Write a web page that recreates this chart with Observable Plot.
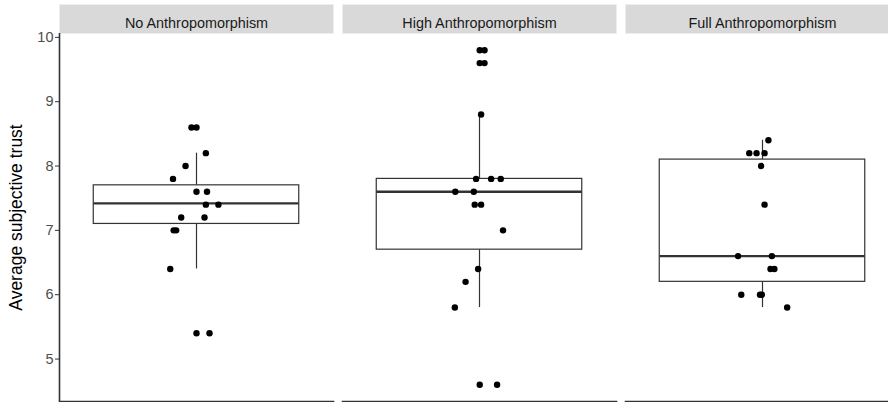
<!DOCTYPE html>
<html>
<head>
<meta charset="utf-8">
<script src="https://cdn.jsdelivr.net/npm/d3@7"></script>
<script src="https://cdn.jsdelivr.net/npm/@observablehq/plot@0.6"></script>
<style>
  html, body { margin: 0; padding: 0; background: #fff; }
  svg { font-family: "Liberation Sans", Arial, sans-serif; }
</style>
</head>
<body>
<div id="chart"></div>
<script>
const conditions = ["No Anthropomorphism", "High Anthropomorphism", "Full Anthropomorphism"];
const yLabel = "Average subjective trust";
const yTicks = [5, 6, 7, 8, 9, 10];

// individual participant values (jittered horizontally)
const noTrust   = [8.6, 8.6, 8.2, 8.0, 7.8, 7.6, 7.6, 7.4, 7.4, 7.2, 7.2, 7.0, 7.0, 6.4, 5.4, 5.4];
const noJitter  = [-0.022, 0, 0.041, -0.048, -0.103, 0, 0.046, 0.041, 0.096, -0.067, 0.035, -0.1, -0.089, -0.115, 0, 0.057];
const highTrust = [9.8, 9.8, 9.6, 9.6, 8.8, 7.8, 7.8, 7.8, 7.6, 7.6, 7.4, 7.4, 7.0, 6.4, 6.2, 5.8, 4.6, 4.6];
const highJitter= [0.001, 0.022, 0.001, 0.022, 0.007, -0.015, 0.051, 0.093, -0.106, -0.025, -0.021, 0.007, 0.103, -0.006, -0.061, -0.108, 0.001, 0.077];
const fullTrust = [8.4, 8.2, 8.2, 8.2, 8.0, 7.4, 6.6, 6.6, 6.4, 6.4, 6.0, 6.0, 6.0, 5.8];
const fullJitter= [0.026, -0.058, -0.026, 0.009, -0.006, 0.009, -0.107, 0.041, 0.035, 0.052, -0.093, -0.011, -0.003, 0.108];

// box statistics per condition
const boxLow    = [6.4, 5.8, 5.8];
const boxQ1     = [7.1, 6.7, 6.2];
const boxMedian = [7.42, 7.6, 6.6];
const boxQ3     = [7.7, 7.8, 8.1];
const boxHigh   = [8.2, 8.8, 8.4];

const trustSets = [noTrust, highTrust, fullTrust];
const jitterSets = [noJitter, highJitter, fullJitter];
const points = conditions.flatMap((c, i) =>
  trustSets[i].map((t, j) => ({cond: c, trust: t, jitter: jitterSets[i][j]})));
const boxes = conditions.map((c, i) => ({
  cond: c, low: boxLow[i], q1: boxQ1[i], median: boxMedian[i], q3: boxQ3[i], high: boxHigh[i]
}));

const center = 1;      // discrete position of the single x category
const half = 0.45;     // half box width (ggplot default width 0.9)
const ink = "#333333";

const chart = Plot.plot({
  width: 888,
  height: 402,
  marginLeft: 58,
  marginRight: -12.6,
  marginTop: 33,
  marginBottom: 1,
  style: {fontFamily: "'Liberation Sans', Arial, sans-serif", background: "white"},
  fx: {domain: conditions, padding: 0.031, axis: null, label: null},
  x: {domain: [0.4, 1.6], axis: null},
  y: {domain: [4.34, 10.06], axis: null},
  marks: [
    // facet strips
    Plot.frame({fill: "#d9d9d9", stroke: "#eeeeee", strokeWidth: 1, insetTop: -29, insetBottom: 368}),
    Plot.text(conditions, {fx: d => d, text: d => d, frameAnchor: "top", dy: -15.5, fontSize: 14.4, fill: "#1a1a1a"}),
    // whiskers
    Plot.ruleX(boxes, {fx: "cond", x: () => center, y1: "low", y2: "high", stroke: ink, strokeWidth: 1.2}),
    // boxes
    Plot.rect(boxes, {fx: "cond", x1: () => center - half, x2: () => center + half, y1: "q1", y2: "q3", fill: "white", stroke: ink, strokeWidth: 1.2}),
    Plot.ruleY(boxes, {fx: "cond", x1: () => center - half, x2: () => center + half, y: "median", stroke: ink, strokeWidth: 2.3}),
    // points
    Plot.dot(points, {fx: "cond", x: d => center + d.jitter, y: "trust", r: 3.2, fill: "black", stroke: "none"}),
    // axis lines
    Plot.frame({anchor: "bottom", stroke: ink, strokeWidth: 1.6}),
    Plot.ruleX([conditions[0]], {fx: d => d, x: () => 0.4, stroke: ink, strokeWidth: 1.6}),
    Plot.axisY(yTicks, {label: null, tickSize: 4, tickPadding: 2, fontSize: 14.5, tickFormat: d3.format("d"), stroke: ink, fill: "#4d4d4d"}),
    Plot.text([conditions[0]], {fx: d => d, text: () => yLabel, frameAnchor: "left", textAnchor: "middle", rotate: -90, dx: -43, fontSize: 17.5, fill: "#000"})
  ]
});
document.getElementById("chart").appendChild(chart);
</script>
</body>
</html>
